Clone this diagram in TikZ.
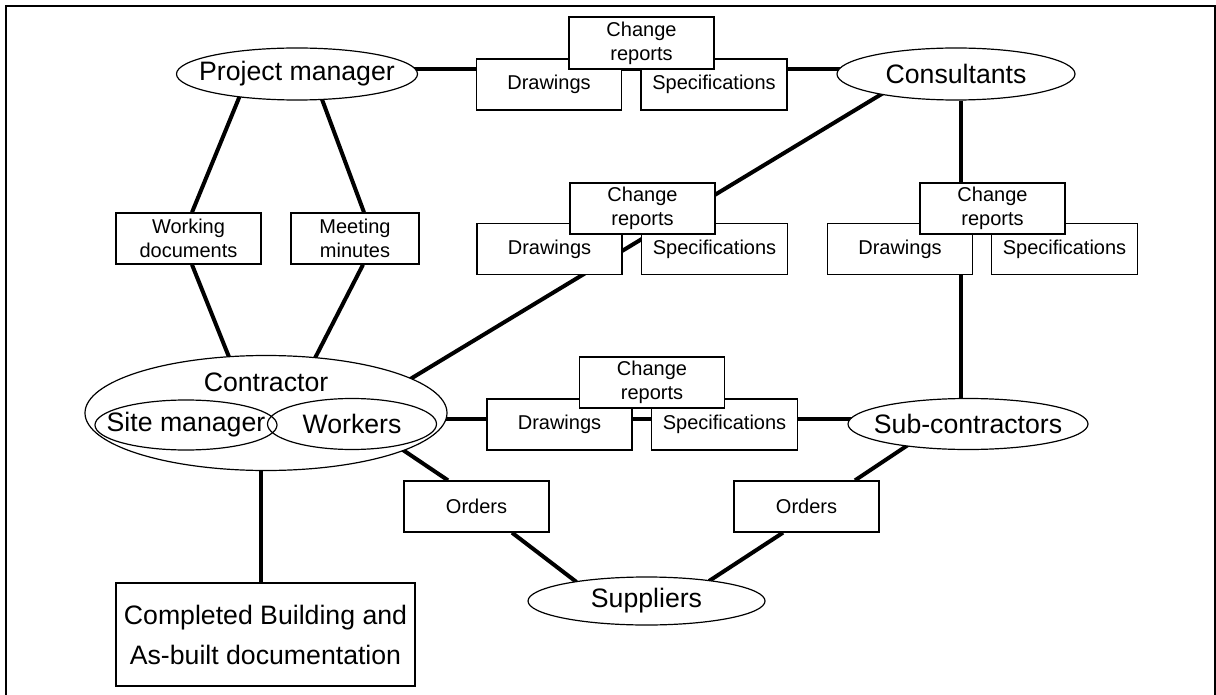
\documentclass[tikz,border=0pt]{standalone}
\usepackage{fontspec}
\setmainfont{Liberation Sans}
\usetikzlibrary{shapes.geometric,calc,backgrounds}

\begin{document}
\begin{tikzpicture}[x=0.75pt,y=-0.75pt,
  bigtext/.style={font=\fontsize{20}{23}\selectfont, inner sep=0pt},
  smalltext/.style={font=\fontsize{15}{18}\selectfont},
  oval/.style 2 args={ellipse, draw, line width=0.9pt, fill=white, inner sep=0pt,
    minimum width=#1*0.75pt, minimum height=#2*0.75pt},
  innerоval/.style={},
  doc/.style 2 args={rectangle, draw, line width=1pt, fill=white, inner sep=0pt,
    minimum width=#1*0.75pt, minimum height=#2*0.75pt, align=center,
    font=\fontsize{15}{18}\selectfont},
  link/.style={line width=3pt}
]
\useasboundingbox (0,0) rectangle (1216,695);

% outer frame
\draw[line width=1.6pt] (6,6) rectangle (1215,720);

% parties
\node[oval={241}{52}, label={[bigtext]center:Project manager}] (pm) at (297,74) {};
\node[oval={238}{52}, label={[bigtext]center:Consultants}] (con) at (956,74) {};
\node[oval={362}{115}] (ctr) at (266,413) {};
\node[bigtext] (ctrtxt) at ($(ctr)+(0,-31)$) {Contractor};
\node[oval={182}{50}, fill=none, label={[bigtext]center:Site manager}] (sm) at (186,425) {};
\node[oval={169}{51}, fill=none, label={[bigtext]center:Workers}] (wk) at (352,424) {};
\node[oval={240}{51}, label={[bigtext]center:Sub-contractors}] (sub) at (968,424) {};
\node[oval={237}{48}, label={[bigtext]center:Suppliers}] (sup) at (646.5,601) {};

% documents between project manager and consultants
\node[doc={145}{51}] (dr1) at (549,84.5) {Drawings};
\node[doc={146}{51}] (sp1) at (714,84.5) {Specifications};
\node[doc={145}{52}] (cr1) at (641.5,43) {Change\\reports};

% documents between project manager and contractor
\node[doc={145}{51}] (wd) at (188.5,238.5) {Working\\documents};
\node[doc={128}{51}] (mm) at (355,238.5) {Meeting\\minutes};

% documents between consultants and contractor
\node[doc={145}{51}] (dr2) at (549.5,249) {Drawings};
\node[doc={146}{51}] (sp2) at (714.5,249) {Specifications};
\node[doc={145}{51}] (cr2) at (642.5,208.5) {Change\\reports};

% documents between consultants and sub-contractors
\node[doc={145}{51}] (dr3) at (900,249) {Drawings};
\node[doc={146}{51}] (sp3) at (1064.5,249) {Specifications};
\node[doc={145}{51}] (cr3) at (992.5,208.5) {Change\\reports};

% documents between contractor and sub-contractors
\node[doc={145}{51}] (dr4) at (559.5,424.5) {Drawings};
\node[doc={146}{51}] (sp4) at (724.5,424.5) {Specifications};
\node[doc={145}{51}] (cr4) at (652,382.5) {Change\\reports};

% orders and final result
\node[doc={145}{51}] (ord1) at (476.5,506.5) {Orders};
\node[doc={145}{51}] (ord2) at (806.5,506.5) {Orders};
\node[doc={299}{103}, font=\fontsize{20}{30}\selectfont] (cb) at (265.5,634.5)
  {Completed Building and\\As-built documentation};

% connectors, drawn behind the white-filled nodes
\begin{pgfonlayer}{background}
  \coordinate (top) at ($(pm)+(0,-5)$);
  \draw[link] (top) -- (top -| con);
  \draw[link] ($(pm)+(-56,19)$) -- ($(wd.north)+(3.5,0)$);
  \draw[link] ($(pm)+(23,20)$) -- ($(mm.north)+(9,0)$);
  \draw[link] ($(wd.south)+(3.5,0)$) -- ($(ctr)+(-35,-51)$);
  \draw[link] ($(mm.south)+(8,0)$) -- ($(ctr)+(47,-51)$);
  \draw[link] ($(ctr)+(141,-32)$) -- ($(con)+(-71,18)$);
  \coordinate (vr) at ($(con.south)+(5,0)$);
  \draw[link] (vr) -- (vr |- sub.north);
  \coordinate (mid) at ($(ctr)+(0,6)$);
  \draw[link] (mid) -- (mid -| sub);
  \draw[link] ($(ctr)+(134,35)$) -- ($(ord1.north)+(-28.5,0)$);
  \draw[link] ($(ord1.south)+(35.5,0)$) -- ($(sup)+(-70,-19)$);
  \draw[link] ($(ord2.south)+(-23.5,0)$) -- ($(sup)+(62.5,-20)$);
  \draw[link] ($(sub)+(-48,13)$) -- ($(ord2.north)+(48.5,0)$);
  \coordinate (vb) at ($(cb.north)+(-4.5,0)$);
  \draw[link] (vb) -- (vb |- ctr.south);
\end{pgfonlayer}
\end{tikzpicture}
\end{document}
